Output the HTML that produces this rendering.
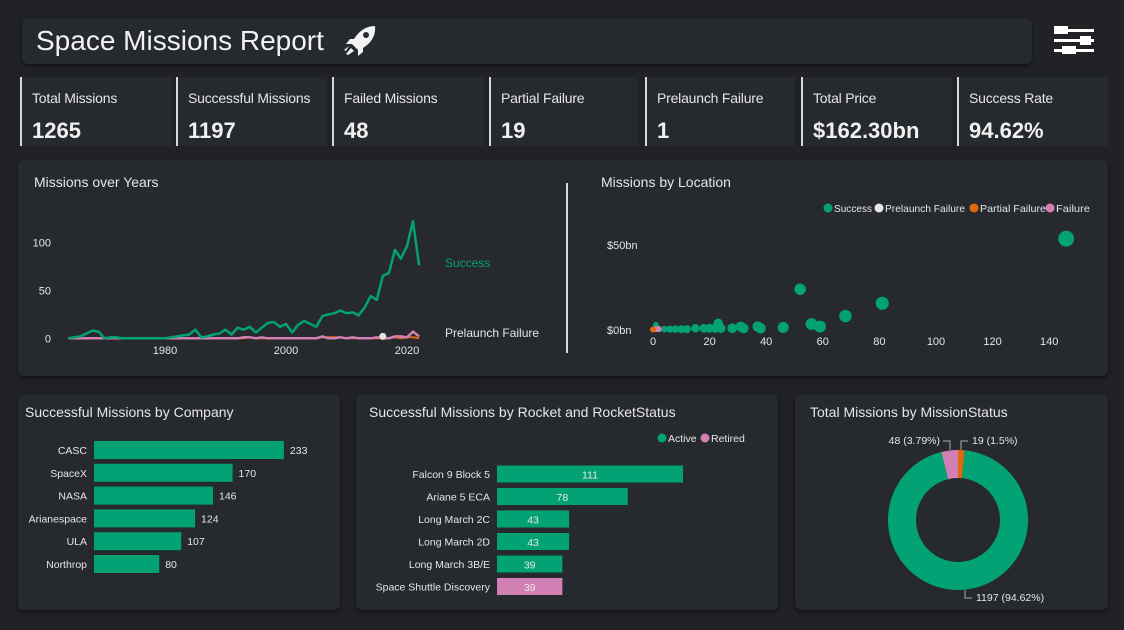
<!DOCTYPE html>
<html><head><meta charset="utf-8">
<style>
body{margin:0;width:1124px;height:630px;background:#202226;font-family:"Liberation Sans",sans-serif;color:#e8e8e8;position:relative;overflow:hidden}
.abs{position:absolute}
.panel{position:absolute;background:#26292d;border-radius:6px;box-shadow:0 2px 4px rgba(0,0,0,.5)}
.card{position:absolute;top:77px;height:69px;background:#26292d;border-left:2px solid #d8d8d8}
.card .l{position:absolute;left:10px;top:13px;font-size:14px;color:#e6e6e6;letter-spacing:-0.2px}
.card .v{position:absolute;left:10px;top:41px;font-size:22px;font-weight:bold;color:#f0f0f0}
svg text{font-family:"Liberation Sans",sans-serif}
</style></head><body>
<div class="panel" style="left:22px;top:18px;width:1010px;height:46px">
  <div class="abs" style="left:14px;top:7px;font-size:28px;color:#f2f2f2">Space Missions Report</div>
  <svg class="abs" style="left:320px;top:6px" width="36" height="36" viewBox="0 0 36 36">
    <path d="M33 2 C24 2 17 7 12 15 L8 15 L4 20 L10 20 L16 26 L16 32 L21 28 L21 24 C29 19 34 12 33 2Z" fill="#f2f2f2"/>
    <circle cx="24" cy="11" r="3" fill="#26292d"/>
    <path d="M9 24 L4 30 L6 31 L12 27Z M7 22 L2 26 L4 27Z" fill="#f2f2f2"/>
  </svg>
</div>
<svg class="abs" style="left:1053px;top:26px" width="42" height="30">
  <rect x="1" y="3" width="40" height="3" fill="#fff"/><rect x="1" y="0" width="14" height="8" fill="#fff"/>
  <rect x="1" y="13" width="40" height="3" fill="#fff"/><rect x="27" y="10" width="11" height="9" fill="#fff"/>
  <rect x="1" y="23" width="40" height="3" fill="#fff"/><rect x="9" y="20" width="14" height="8" fill="#fff"/>
</svg>

<div class="card" style="left:20px;width:150px"><div class="l">Total Missions</div><div class="v">1265</div></div>
<div class="card" style="left:176px;width:149px"><div class="l">Successful Missions</div><div class="v">1197</div></div>
<div class="card" style="left:332px;width:150px"><div class="l">Failed Missions</div><div class="v">48</div></div>
<div class="card" style="left:489px;width:147px"><div class="l">Partial Failure</div><div class="v">19</div></div>
<div class="card" style="left:645px;width:148px"><div class="l">Prelaunch Failure</div><div class="v">1</div></div>
<div class="card" style="left:801px;width:149px"><div class="l">Total Price</div><div class="v">$162.30bn</div></div>
<div class="card" style="left:957px;width:149px"><div class="l">Success Rate</div><div class="v">94.62%</div></div>

<div class="panel" style="left:18px;top:160px;width:1090px;height:216px"></div>
<div class="panel" style="left:18px;top:394px;width:322px;height:216px"></div>
<div class="panel" style="left:356px;top:394px;width:422px;height:216px"></div>
<div class="panel" style="left:795px;top:394px;width:313px;height:216px"></div>

<svg class="abs" style="left:0;top:0" width="1124" height="630" id="charts"></svg>

<script>
// ---- Missions over years ----
const years=[1964,1965,1966,1967,1968,1969,1970,1971,1972,1973,1974,1975,1976,1977,1978,1979,1980,1981,1982,1983,1984,1985,1986,1987,1988,1989,1990,1991,1992,1993,1994,1995,1996,1997,1998,1999,2000,2001,2002,2003,2004,2005,2006,2007,2008,2009,2010,2011,2012,2013,2014,2015,2016,2017,2018,2019,2020,2021,2022];
const successVals=[0,1,2,5,8,7,0,1,1,0,0,0,0,0,0,0,0,1,2,3,4,9,1,2,4,5,9,4,11,9,12,6,11,16,17,12,15,6,14,18,15,12,23,25,26,29,26,27,24,32,44,40,65,68,92,83,96,122,76];
const failureVals=[0,0,0,0,0,0,0,0,0,0,0,0,0,0,0,0,0,0,0,0,0,0,0,0,0,0,0,0,0,1,1,0,1,0,0,0,0,0,0,0,0,0,2,0,0,1,0,1,0,0,0,1,0,0,2,2,1,7,2];
const partialVals=[0,0,0,0,0,0,0,0,0,0,0,0,0,0,0,0,0,0,0,0,0,0,0,0,0,0,0,0,0,0,1,0,0,0,0,0,0,0,0,0,0,0,1,1,1,1,0,0,0,0,0,0,0,0,1,0,1,1,0];
const prelaunchYears=[2016];
const prelaunchVals=[1];
const yearTicks=[1980,2000,2020];
const lineYTicks=[0,50,100];

// ---- scatter ----
const scatterSuccessX=[146,52,81,68,56,59,46,37,38,31,32,28,23,22,24,20,15,18,12,10,8,6,4,2,1];
const scatterSuccessY=[53.7,24,15.7,8.2,3.5,2,1.5,2,1,2,1,1,4,1,1,1,1,1,0.5,0.5,0.5,0.5,0.5,0.5,3];
const scatterFailX=[1,2,0];
const scatterFailY=[0.5,0.6,0.3];
const scatterXTicks=[0,20,40,60,80,100,120,140];
const scatterYTicks=[0,50];
const scatterYLabels=["$0bn","$50bn"];

// ---- company bars ----
const companies=["CASC","SpaceX","NASA","Arianespace","ULA","Northrop"];
const companyVals=[233,170,146,124,107,80];

// ---- rocket bars ----
const rockets=["Falcon 9 Block 5","Ariane 5 ECA","Long March 2C","Long March 2D","Long March 3B/E","Space Shuttle Discovery"];
const rocketVals=[111,78,43,43,39,39];
const rocketStatus=["Active","Active","Active","Active","Active","Retired"];

// ---- donut ----
const statusNames=["Partial Failure","Success","Failure"];
const statusVals=[19,1197,48];
const statusLabels=["19 (1.5%)","1197 (94.62%)","48 (3.79%)"];

const G="#03a275",P="#d27fb3",O="#e0690c",W="#e8e6df";
const svg=document.getElementById('charts');
const NS="http://www.w3.org/2000/svg";
function mk(tag,attrs,parent){const e=document.createElementNS(NS,tag);for(const k in attrs)e.setAttribute(k,attrs[k]);(parent||svg).appendChild(e);return e;}
function txt(x,y,s,attrs){const e=mk('text',Object.assign({x:x,y:y,fill:'#e6e6e6','font-size':11},attrs||{}));e.textContent=s;return e;}

let t;
t=txt(34,187,"Missions over Years",{'font-size':14});


t=txt(601,187,"Missions by Location",{'font-size':14});


t=txt(25,417,"Successful Missions by Company",{'font-size':14});


t=txt(369,417,"Successful Missions by Rocket and RocketStatus",{'font-size':14});


t=txt(810,417,"Total Missions by MissionStatus",{'font-size':14});


let dv=mk('line',{x1:567,y1:183,x2:567,y2:353,stroke:'#d8d8d8','stroke-width':2});



// line chart
const lx=y=>165+(y-1980)*6.05, ly=v=>338.3-v*0.96;
yearTicks.forEach(y=>{const e=txt(lx(y),354,String(y),{'text-anchor':'middle'});

});
lineYTicks.forEach(v=>{const e=txt(51,ly(v)+4,String(v),{'text-anchor':'end'});

});
function series(vals,color,name,w){const d=vals.map((v,i)=>(i?'L':'M')+lx(years[i]).toFixed(1)+' '+ly(v).toFixed(1)).join('');
const p=mk('path',{d:d,fill:'none',stroke:color,'stroke-width':w||2.5,'stroke-linejoin':'round'});

}
series(partialVals,O,'partial-failure-line',2);
series(failureVals,P,'failure-line',2.5);
series(successVals,G,'success-line',2.5);
prelaunchYears.forEach((y,i)=>{const c=mk('circle',{cx:lx(y),cy:ly(prelaunchVals[i])-1,r:3.5,fill:W});

});
t=txt(445,267,"Success",{fill:G,'font-size':12});


t=txt(445,337,"Prelaunch Failure",{'font-size':12});



// scatter
const sx=v=>653+v*2.83, sy=v=>330-v*1.7;
scatterXTicks.forEach(v=>{const e=txt(sx(v),345,String(v),{'text-anchor':'middle'});

});
scatterYTicks.forEach((v,i)=>{const e=txt(607,sy(v)+4,scatterYLabels[i]);

});
scatterSuccessX.forEach((x,i)=>{const r=2.5+Math.sqrt(x)*0.45;const c=mk('circle',{cx:sx(x),cy:sy(scatterSuccessY[i]),r:r,fill:G});

});
scatterFailX.forEach((x,i)=>{const c=mk('circle',{cx:sx(x),cy:sy(scatterFailY[i]),r:3,fill:i==2?O:P});

});
const leg=[["Success",G,828,38],["Prelaunch Failure",W,879,80],["Partial Failure",O,974,66],["Failure",P,1050,34]];
leg.forEach(l=>{const c=mk('circle',{cx:l[2],cy:208,r:4.5,fill:l[1]});


const e=txt(l[2]+6,212,l[0],{'font-size':10.5,textLength:l[3],lengthAdjust:'spacingAndGlyphs'});

});

// company bars
const cs=0.815;
companies.forEach((c,i)=>{const cy=450+i*22.8;
const r=mk('rect',{x:94,y:cy-9,width:companyVals[i]*cs,height:18,fill:G});


const a=txt(87,cy+4,c,{'text-anchor':'end','font-size':10.5});


const b=txt(94+companyVals[i]*cs+6,cy+4,String(companyVals[i]),{'font-size':10.5});

});

// rocket bars
const rs=1.676;
rockets.forEach((c,i)=>{const cy=474+i*22.5;
const r=mk('rect',{x:497,y:cy-8.5,width:rocketVals[i]*rs,height:17,fill:rocketStatus[i]=="Active"?G:P});


const a=txt(490,cy+4,c,{'text-anchor':'end','font-size':10.5});


const b=txt(497+rocketVals[i]*rs/2,cy+4.5,String(rocketVals[i]),{'text-anchor':'middle','font-size':10.5});

});
[["Active",G,662],["Retired",P,705]].forEach(l=>{const c=mk('circle',{cx:l[2],cy:438,r:4.5,fill:l[1]});


const e=txt(l[2]+6,442,l[0],{'font-size':10.5});

});

// donut
const cx=958,cy=520,R=70,ri=42;const tot=statusVals.reduce((a,b)=>a+b,0);
const cols=[O,G,P];let ang=0;
statusVals.forEach((v,i)=>{const a0=ang,a1=ang+v/tot*2*Math.PI;ang=a1;
const p=(a,r)=>[cx+r*Math.sin(a),cy-r*Math.cos(a)];const L=(a1-a0)>Math.PI?1:0;
const [x0,y0]=p(a0,R),[x1,y1]=p(a1,R),[x2,y2]=p(a1,ri),[x3,y3]=p(a0,ri);
const s=mk('path',{d:`M${x0} ${y0}A${R} ${R} 0 ${L} 1 ${x1} ${y1}L${x2} ${y2}A${ri} ${ri} 0 ${L} 0 ${x3} ${y3}Z`,fill:cols[i]});

});
mk('path',{d:'M961 450V441H968',fill:'none',stroke:'#aaa','stroke-width':1});
mk('path',{d:'M950 450V441H943',fill:'none',stroke:'#aaa','stroke-width':1});
mk('path',{d:'M965 590V598H972',fill:'none',stroke:'#aaa','stroke-width':1});
t=txt(972,444,statusLabels[0],{'font-size':10.5});


t=txt(940,444,statusLabels[2],{'font-size':10.5,'text-anchor':'end'});


t=txt(976,601,statusLabels[1],{'font-size':10.5});


</script>
</body></html>
